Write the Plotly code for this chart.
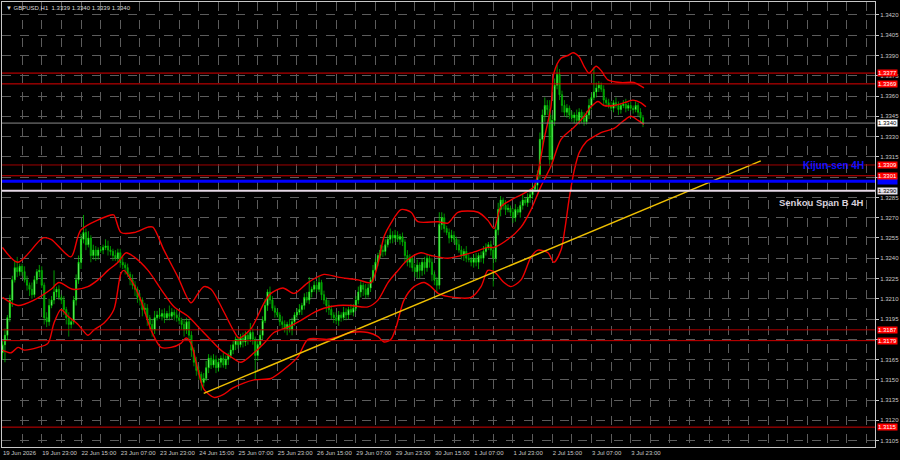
import plotly.graph_objects as go

# ---------------- data ----------------
first_open = 1.3170
closes = [
    1.3176, 1.3183, 1.3196, 1.3209, 1.3224, 1.3233, 1.3230, 1.3234,
    1.3230, 1.3224, 1.3220, 1.3217, 1.3213, 1.3224, 1.3230, 1.3231,
    1.3220, 1.3196, 1.3193, 1.3205, 1.3209, 1.3215, 1.3217, 1.3211,
    1.3209, 1.3202, 1.3196, 1.3191, 1.3193, 1.3209, 1.3224, 1.3237,
    1.3254, 1.3259, 1.3250, 1.3255, 1.3242, 1.3246, 1.3242, 1.3246,
    1.3246, 1.3248, 1.3249, 1.3246, 1.3245, 1.3242, 1.3240, 1.3244,
    1.3237, 1.3235, 1.3233, 1.3228, 1.3224, 1.3220, 1.3217, 1.3211,
    1.3209, 1.3202, 1.3203, 1.3196, 1.3191, 1.3187, 1.3196, 1.3198,
    1.3197, 1.3199, 1.3196, 1.3199, 1.3197, 1.3200, 1.3198, 1.3196,
    1.3194, 1.3191, 1.3187, 1.3193, 1.3183, 1.3172, 1.3163, 1.3157,
    1.3154, 1.3148, 1.3151, 1.3159, 1.3166, 1.3161, 1.3165, 1.3159,
    1.3163, 1.3166, 1.3161, 1.3165, 1.3168, 1.3172, 1.3176, 1.3180,
    1.3176, 1.3181, 1.3178, 1.3183, 1.3180, 1.3185, 1.3180, 1.3168,
    1.3176, 1.3183, 1.3194, 1.3205, 1.3215, 1.3209, 1.3203, 1.3200,
    1.3198, 1.3193, 1.3191, 1.3188, 1.3191, 1.3187, 1.3193, 1.3198,
    1.3200, 1.3202, 1.3205, 1.3211, 1.3209, 1.3215, 1.3217, 1.3220,
    1.3217, 1.3222, 1.3213, 1.3209, 1.3205, 1.3202, 1.3198, 1.3196,
    1.3194, 1.3198, 1.3196, 1.3200, 1.3198, 1.3202, 1.3200, 1.3203,
    1.3209, 1.3215, 1.3220, 1.3217, 1.3213, 1.3218, 1.3224, 1.3231,
    1.3237, 1.3242, 1.3246, 1.3245, 1.3250, 1.3254, 1.3257, 1.3255,
    1.3257, 1.3254, 1.3256, 1.3252, 1.3242, 1.3237, 1.3240, 1.3233,
    1.3230, 1.3235, 1.3231, 1.3237, 1.3233, 1.3240, 1.3237, 1.3228,
    1.3224, 1.3220, 1.3265, 1.3270, 1.3262, 1.3259, 1.3255, 1.3257,
    1.3254, 1.3250, 1.3246, 1.3242, 1.3245, 1.3240, 1.3239, 1.3237,
    1.3240, 1.3237, 1.3242, 1.3240, 1.3245, 1.3248, 1.3250, 1.3246,
    1.3240, 1.3261, 1.3276, 1.3283, 1.3279, 1.3276, 1.3277, 1.3274,
    1.3270, 1.3276, 1.3274, 1.3279, 1.3283, 1.3281, 1.3285, 1.3287,
    1.3291, 1.3294, 1.3302, 1.3328, 1.3346, 1.3353, 1.3350, 1.3313,
    1.3342, 1.3368, 1.3376, 1.3361, 1.3353, 1.3348, 1.3351, 1.3346,
    1.3344, 1.3346, 1.3342, 1.3348, 1.3344, 1.3341, 1.3346, 1.3353,
    1.3359, 1.3363, 1.3366, 1.3368, 1.3365, 1.3357, 1.3355, 1.3353,
    1.3351, 1.3355, 1.3353, 1.3350, 1.3353, 1.3354, 1.3351, 1.3353,
    1.3351, 1.3350, 1.3353, 1.3348, 1.3344, 1.3340,
]
# upper / lower shadow lengths in pips
wick_up = [
    3, 5, 2, 4, 3, 5, 8, 2,   2, 4, 3, 2, 5, 3, 2, 4,   3, 2, 4, 5, 3, 16, 2, 3,
    2, 3, 2, 4, 2, 3, 4, 5,   4, 13, 3, 5, 2, 4, 3, 2,  3, 2, 5, 4, 3, 2, 4, 3,
    3, 4, 2, 3, 2, 4, 3, 2,   3, 2, 4, 3, 2, 4, 5, 3,   5, 3, 4, 2, 6, 3, 2, 4,
    3, 2, 4, 3, 2, 3, 2, 4,   3, 2, 4, 5, 3, 2, 4, 3,   3, 2, 4, 3, 2, 4, 3, 2,
    2, 3, 4, 3, 2, 7, 3, 2,   3, 4, 3, 5, 2, 4, 3, 2,   3, 2, 4, 3, 2, 4, 3, 2,
    3, 4, 2, 3, 4, 11, 2, 3,  3, 4, 2, 3, 2, 4, 3, 2,   4, 3, 2, 4, 3, 2, 4, 3,
    3, 4, 3, 2, 4, 3, 2, 4,   3, 2, 4, 3, 4, 3, 5, 3,   4, 3, 2, 3, 2, 4, 3, 2,
    3, 4, 2, 3, 4, 3, 2, 3,   3, 2, 9, 4, 3, 2, 3, 4,   3, 2, 4, 3, 2, 4, 3, 2,
    3, 4, 2, 3, 4, 3, 2, 3,   2, 4, 5, 3, 2, 4, 3, 2,   3, 4, 2, 3, 4, 2, 3, 4,
    3, 4, 3, 5, 4, 6, 4, 7,   4, 5, 7, 4, 3, 4, 3, 2,   3, 2, 4, 3, 2, 4, 3, 5,
    3, 18, 4, 3, 2, 3, 2, 3,  3, 2, 4, 3, 2, 3, 4, 2,   3, 2, 3, 2, 3, 2,
]
wick_dn = [
    5, 13, 4, 3, 5, 2, 4, 3,  3, 2, 4, 5, 3, 2, 3, 4,   2, 5, 4, 3, 2, 3, 4, 2,
    3, 4, 5, 9, 3, 2, 4, 3,   5, 3, 4, 2, 5, 3, 4, 3,   2, 3, 2, 4, 3, 4, 2, 3,
    4, 3, 5, 2, 4, 3, 5, 4,   4, 5, 3, 6, 4, 5, 3, 2,   2, 3, 4, 2, 3, 2, 4, 3,
    3, 4, 5, 3, 4, 5, 3, 4,   4, 6, 3, 2, 4, 3, 2, 4,   3, 4, 2, 3, 4, 2, 3, 4,
    3, 2, 4, 3, 4, 2, 4, 18,  4, 2, 3, 2, 4, 3, 2, 4,   2, 3, 4, 3, 5, 2, 4, 3,
    3, 2, 4, 3, 2, 3, 4, 2,   3, 2, 4, 3, 5, 4, 3, 4,   3, 4, 3, 2, 4, 3, 2, 3,
    2, 3, 4, 5, 3, 2, 3, 2,   4, 3, 2, 4, 3, 2, 3, 4,   3, 2, 4, 3, 5, 3, 4, 3,
    4, 5, 6, 4, 5, 3, 4, 5,   4, 6, 3, 4, 3, 2, 4, 3,   3, 4, 2, 3, 4, 3, 2, 3,
    4, 3, 5, 3, 4, 3, 2, 4,   21, 3, 4, 5, 3, 4, 2, 3,  4, 3, 2, 4, 3, 2, 3, 4,
    3, 2, 4, 3, 6, 5, 4, 5,   5, 4, 3, 4, 5, 3, 4, 3,   3, 4, 2, 3, 4, 3, 2, 3,
    3, 2, 4, 3, 2, 4, 3, 2,   2, 3, 2, 4, 3, 2, 3, 2,   2, 3, 2, 3, 4, 3,
]

# Bollinger bands (bar index, price)
bb_up_x = [0, 6.3, 16.5, 19.8, 27.9, 32.0, 44.2, 45.4, 48.3, 53.6, 59.3, 61.3, 65.8, 71.5,
           76.8, 79.7, 82.1, 85.0, 90.3, 94.3, 96.4, 101.3, 106.6, 109.4, 114.3, 118.8,
           124.5, 131.0, 136.7, 144.9, 150.2, 153.0, 155.5, 158.3, 162.4, 166.5, 169.3,
           177.5, 181.5, 185.6, 193.8, 197.8, 200.3, 203.1, 207.2, 212.5, 216.6, 218.2,
           220.7, 223.5, 224.7, 227.6, 230.4, 232.5, 235.0, 237.0, 239.0, 241.9, 243.9,
           246.7, 252.0, 257.3, 261.4]
bb_up_y = [1.3248, 1.3237, 1.3255, 1.3254, 1.3241, 1.3261, 1.3272, 1.3272, 1.3259, 1.3259,
           1.3263, 1.3263, 1.3246, 1.3226, 1.3207, 1.3214, 1.3219, 1.3217, 1.3200, 1.3186,
           1.3181, 1.3188, 1.3207, 1.3214, 1.3218, 1.3214, 1.3222, 1.3228, 1.3226, 1.3224,
           1.3222, 1.3236, 1.3256, 1.3266, 1.3276, 1.3274, 1.3267, 1.3267, 1.3266, 1.3274,
           1.3274, 1.3268, 1.3262, 1.3278, 1.3283, 1.3288, 1.3293, 1.3303, 1.3328, 1.3352,
           1.3377, 1.3388, 1.3390, 1.3392, 1.3389, 1.3382, 1.3377, 1.3382, 1.3379, 1.3372,
           1.3370, 1.3370, 1.3366]
bb_mid_x = [0, 6.3, 12.8, 19.8, 23.0, 28.7, 34.8, 38.9, 43.0, 47.1, 50.3, 53.6, 59.3, 64.6,
            69.9, 75.6, 80.9, 86.2, 89.0, 93.1, 97.2, 102.5, 106.6, 110.6, 116.3, 121.6,
            127.0, 131.0, 136.7, 142.0, 148.9, 153.0, 157.1, 161.2, 165.2, 170.5, 174.6,
            181.5, 191.0, 197.8, 200.3, 206.0, 211.3, 215.4, 219.4, 223.5, 227.6, 232.9,
            237.0, 239.8, 242.7, 245.1, 249.2, 254.9, 256.9, 260.2, 262.2]
bb_mid_y = [1.3211, 1.3205, 1.3209, 1.3217, 1.3222, 1.3217, 1.3219, 1.3224, 1.3231, 1.3237,
            1.3244, 1.3241, 1.3231, 1.3217, 1.3204, 1.3197, 1.3187, 1.3177, 1.3172, 1.3167,
            1.3163, 1.3170, 1.3177, 1.3185, 1.3189, 1.3194, 1.3200, 1.3203, 1.3205, 1.3205,
            1.3204, 1.3209, 1.3222, 1.3231, 1.3239, 1.3244, 1.3242, 1.3240, 1.3244, 1.3248,
            1.3248, 1.3254, 1.3263, 1.3276, 1.3293, 1.3308, 1.3328, 1.3337, 1.3345, 1.3352,
            1.3356, 1.3353, 1.3353, 1.3356, 1.3357, 1.3355, 1.3352]
bb_lo_x = [0, 3.5, 6.3, 8.8, 14.5, 18.5, 21.0, 23.8, 26.7, 30.8, 34.8, 37.3, 41.4, 45.4,
           48.3, 49.5, 52.4, 56.4, 60.5, 64.6, 68.7, 72.7, 74.8, 76.8, 79.7, 82.1, 86.2,
           89.9, 93.9, 102.5, 109.4, 116.3, 120.4, 124.5, 132.6, 136.7, 142.0, 148.9, 153.0,
           155.5, 158.3, 160.4, 163.6, 167.7, 171.8, 174.6, 177.5, 184.0, 190.9, 195.0,
           197.8, 200.3, 204.4, 207.2, 211.3, 215.4, 218.2, 222.3, 224.7, 227.6, 229.2,
           231.0, 233.0, 235.0, 237.8, 241.0, 243.9, 249.2, 253.3, 256.1, 259.0, 261.4]
bb_lo_y = [1.3172, 1.3170, 1.3174, 1.3172, 1.3174, 1.3177, 1.3192, 1.3202, 1.3197, 1.3191,
           1.3183, 1.3187, 1.3192, 1.3202, 1.3229, 1.3231, 1.3224, 1.3209, 1.3187, 1.3174,
           1.3174, 1.3177, 1.3181, 1.3177, 1.3157, 1.3143, 1.3137, 1.3139, 1.3144, 1.3150,
           1.3151, 1.3160, 1.3167, 1.3180, 1.3180, 1.3182, 1.3185, 1.3185, 1.3182, 1.3178,
           1.3180, 1.3189, 1.3209, 1.3219, 1.3222, 1.3219, 1.3214, 1.3211, 1.3211, 1.3219,
           1.3231, 1.3230, 1.3222, 1.3219, 1.3224, 1.3241, 1.3246, 1.3244, 1.3237, 1.3246,
           1.3262, 1.3285, 1.3305, 1.3318, 1.3326, 1.3330, 1.3333, 1.3336, 1.3342, 1.3345,
           1.3342, 1.3339]

trend_x = [82, 309]
trend_y = [1.3140, 1.3312]

red_levels = [1.3377, 1.3369, 1.3309, 1.3301, 1.3187, 1.3179, 1.3115]
red_colors = ["#e00000", "#e00000", "#a00000", "#d00000", "#b00000", "#d00000", "#d00000"]
kijun_level = 1.3297
senkou_level = 1.3290
last_price = 1.3340

price_ticks = [1.3105, 1.3120, 1.3135, 1.3150, 1.3165, 1.3180, 1.3195, 1.3210, 1.3225,
               1.3240, 1.3255, 1.3270, 1.3285, 1.3300, 1.3315, 1.3330, 1.3345, 1.3360,
               1.3375, 1.3390, 1.3405, 1.3420]
price_tick_text = ["1.3105", "1.3120", "1.3135", "1.3150", "1.3165", "", "1.3195", "1.3210",
                   "1.3225", "1.3240", "1.3255", "1.3270", "1.3285", "", "1.3315", "1.3330",
                   "1.3345", "1.3360", "1.3375", "1.3390", "1.3405", "1.3420"]

tick_bars = [0, 16, 32, 48, 64, 80, 96, 112, 128, 144, 160, 176, 192, 208, 224, 240, 256]
tick_labels = ["19 Jun 2026", "19 Jun 23:00", "22 Jun 15:00", "23 Jun 07:00", "23 Jun 23:00",
               "24 Jun 15:00", "25 Jun 07:00", "25 Jun 23:00", "26 Jun 15:00", "29 Jun 07:00",
               "29 Jun 23:00", "30 Jun 15:00", "1 Jul 07:00", "1 Jul 23:00", "2 Jul 15:00",
               "3 Jul 07:00", "3 Jul 23:00"]
title_text = "GBPUSD,H1  1.3339 1.3340 1.3339 1.3340"

# ---------------- build ----------------
n = len(closes)
bars = list(range(n))
opens = [first_open] + closes[:-1]
highs = [max(o, c) + u / 10000 for o, c, u in zip(opens, closes, wick_up)]
lows = [min(o, c) - d / 10000 for o, c, d in zip(opens, closes, wick_dn)]

FONT = "Liberation Sans"
AX = "#c8c8c8"
GRID = "#5c5c5c"

fig = go.Figure()

fig.add_trace(go.Candlestick(
    x=bars, open=opens, high=highs, low=lows, close=closes,
    increasing=dict(line=dict(color="#00e000", width=0.7), fillcolor="#a8ffa8"),
    decreasing=dict(line=dict(color="#00c000", width=0.7), fillcolor="#008a00"),
    whiskerwidth=0, hoverinfo="skip", showlegend=False,
))

for bx, by in [(bb_up_x, bb_up_y), (bb_mid_x, bb_mid_y), (bb_lo_x, bb_lo_y)]:
    fig.add_trace(go.Scatter(x=bx, y=by, mode="lines",
                             line=dict(color="#ee0000", width=1.4, shape="spline", smoothing=0.8),
                             hoverinfo="skip", showlegend=False))

fig.add_trace(go.Scatter(x=trend_x, y=trend_y, mode="lines",
                         line=dict(color="#f0c000", width=1.5),
                         hoverinfo="skip", showlegend=False))

shapes = []
for lv, col in zip(red_levels, red_colors):
    shapes.append(dict(type="line", xref="paper", x0=0, x1=1, yref="y", y0=lv, y1=lv,
                       line=dict(color=col, width=1)))
shapes.append(dict(type="line", xref="paper", x0=0, x1=1, yref="y", y0=kijun_level, y1=kijun_level,
                   line=dict(color="#0000ff", width=3)))
shapes.append(dict(type="line", xref="paper", x0=0, x1=1, yref="y", y0=senkou_level, y1=senkou_level,
                   line=dict(color="#e6d8e6", width=2)))
shapes.append(dict(type="line", xref="paper", x0=0, x1=1, yref="y", y0=last_price, y1=last_price,
                   line=dict(color="#8a8a8a", width=1)))

annotations = []
annotations.append(dict(xref="paper", x=1, xanchor="left", xshift=2, yref="y", y=kijun_level,
                        text=f"{kijun_level:.4f}", showarrow=False, bgcolor="#0000ff",
                        font=dict(family=FONT, size=6, color="#0000ff"), borderpad=0))
for lv in red_levels:
    annotations.append(dict(xref="paper", x=1, xanchor="left", xshift=2, yref="y", y=lv,
                            text=f"{lv:.4f}", showarrow=False, bgcolor="#ff0000",
                            font=dict(family=FONT, size=6, color="#ffffff"), borderpad=0))
annotations.append(dict(xref="paper", x=1, xanchor="left", xshift=2, yref="y", y=senkou_level,
                        text=f"{senkou_level:.4f}", showarrow=False, bgcolor="#e6e0ea",
                        font=dict(family=FONT, size=6, color="#000000"), borderpad=0))
annotations.append(dict(xref="paper", x=1, xanchor="left", xshift=2, yref="y", y=last_price,
                        text=f"{last_price:.4f}", showarrow=False, bgcolor="#ffffff",
                        font=dict(family=FONT, size=6, color="#000000"), borderpad=0))
annotations.append(dict(xref="paper", x=0.99, xanchor="right", yref="y", y=kijun_level,
                        yanchor="bottom", yshift=8, text="<b>Kijun-sen 4H</b>", showarrow=False,
                        font=dict(family=FONT, size=10, color="#1010ff")))
annotations.append(dict(xref="paper", x=0.99, xanchor="right", yref="y", y=senkou_level,
                        yanchor="top", yshift=-4, text="<b>Senkou Span B 4H</b>", showarrow=False,
                        font=dict(family=FONT, size=9.5, color="#d8d0dc")))
annotations.append(dict(xref="paper", x=0, xanchor="left", xshift=2, yref="paper", y=1,
                        yanchor="top", yshift=-1, text="\u25bc " + title_text, showarrow=False,
                        font=dict(family=FONT, size=6, color="#d8d8d8")))

grid_vals = list(range(0, 360, 8))
grid_text = []
for v in grid_vals:
    grid_text.append(tick_labels[tick_bars.index(v)] if v in tick_bars else "")

fig.update_layout(
    width=900, height=460,
    margin=dict(l=2, r=25, t=2, b=13, autoexpand=False),
    paper_bgcolor="#000000", plot_bgcolor="#000000",
    shapes=shapes, annotations=annotations,
    showlegend=False, hovermode=False,
    font=dict(family=FONT, size=6, color=AX),
    xaxis=dict(range=[-0.2, 355.55], rangeslider=dict(visible=False), automargin=False,
               tickmode="array", tickvals=grid_vals, ticktext=grid_text, tickangle=0,
               ticklabelposition="outside right", ticklabeloverflow="allow",
               showgrid=True, gridcolor=GRID, griddash="dash", gridwidth=1,
               showline=True, linecolor=AX, linewidth=1, mirror=True,
               ticks="", zeroline=False,
               tickfont=dict(family=FONT, size=6, color=AX)),
    yaxis=dict(range=[1.31003, 1.34296], side="right", automargin=False,
               tickmode="array", tickvals=price_ticks, ticktext=price_tick_text,
               showgrid=True, gridcolor=GRID, griddash="dash", gridwidth=1,
               showline=True, linecolor=AX, linewidth=1, mirror=True,
               ticks="outside", ticklen=3, tickcolor=AX, zeroline=False,
               tickfont=dict(family=FONT, size=6, color=AX)),
)

fig.write_html("out.html")
